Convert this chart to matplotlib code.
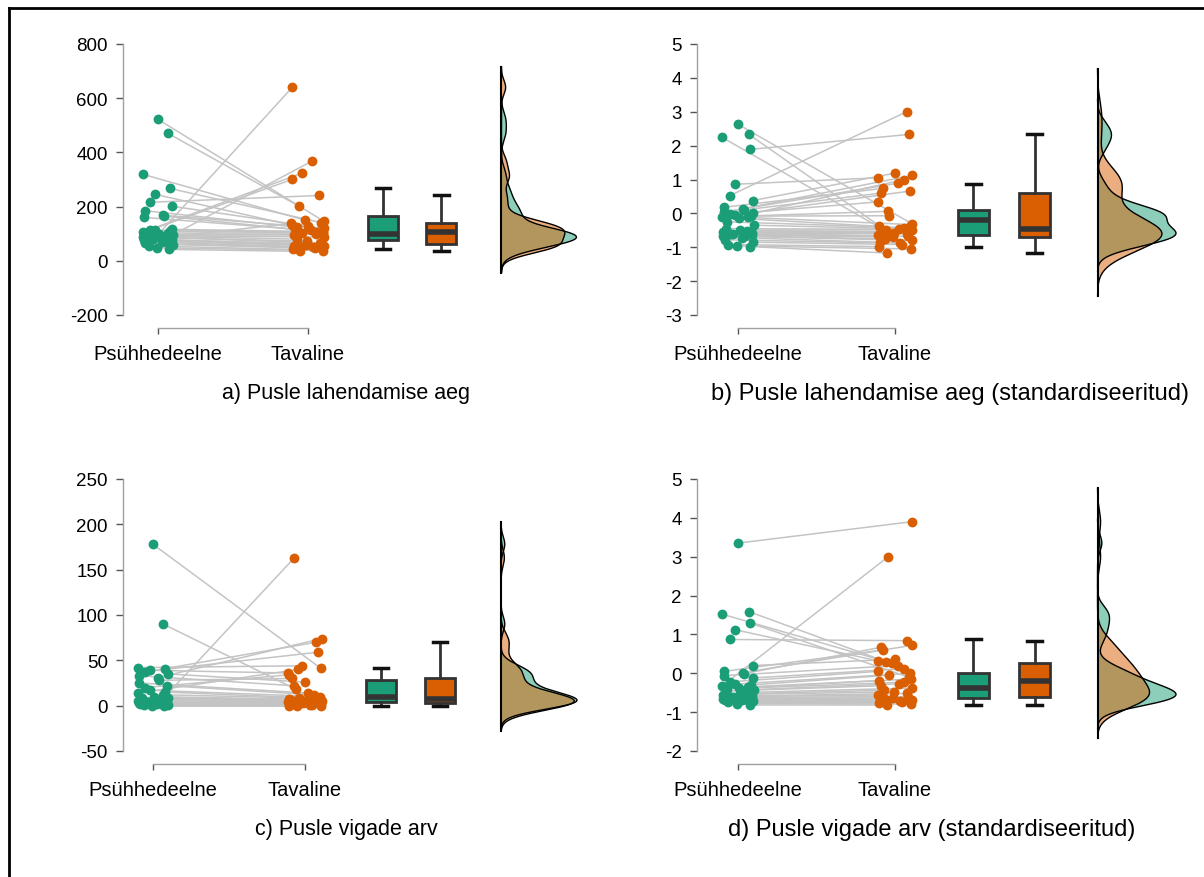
import numpy as np
import matplotlib.pyplot as plt
from matplotlib.lines import Line2D

plt.rcParams['font.family'] = ['Liberation Sans', 'DejaVu Sans']
plt.rcParams['axes.unicode_minus'] = False

groups = ['Psühhedeelne', 'Tavaline']
col_psy = '#1b9e77'
col_tav = '#d95f02'

# a) Pusle lahendamise aeg (participant order, psy / tav paired)
aeg_psy = [522, 470, 319, 267, 245, 216, 201, 185, 168, 165, 160, 116, 114, 112, 110, 106, 102, 99,
           97, 96, 94, 92, 90, 88, 85, 82, 79, 77, 75, 72, 68, 64, 60, 55, 48, 42]
aeg_tav = [146, 201, 150, 141, 132, 241, 128, 124, 120, 116, 112, 108, 300, 106, 104, 323, 102, 640,
           98, 367, 94, 88, 80, 72, 66, 138, 62, 60, 58, 56, 53, 50, 46, 42, 38, 35]

# b) standardiseeritud
aeg_std_psy = [2.63, 2.34, 2.24, 1.89, 0.86, 0.52, 0.38, 0.18, 0.14, 0.10, 0.04, 0.0, -0.02, -0.05,
               -0.08, -0.10, -0.12, -0.15, -0.25, -0.35, -0.45, -0.50, -0.52, -0.55, -0.58, -0.60,
               -0.62, -0.65, -0.66, -0.68, -0.72, -0.78, -0.85, -0.92, -0.96, -0.98]
aeg_std_tav = [-0.30, -0.50, -0.62, 2.33, 1.05, 3.0, 1.19, 0.74, 1.12, 0.60, 0.89, 1.0, 0.34, 0.66,
               -0.07, 0.06, -0.33, -0.38, -0.42, -0.45, -0.47, -0.48, -0.54, -0.57, -0.60, -0.65,
               -0.68, -0.70, -0.75, -0.80, -0.85, -0.88, -0.92, -0.98, -1.05, -1.17]

# c) Pusle vigade arv
vead_psy = [178, 90, 42, 40, 39, 37, 35, 33, 31, 28, 25, 22, 20, 17, 15, 14, 12, 10,
            9, 9, 8, 7, 6, 5, 5, 4, 4, 3, 3, 3, 2, 2, 1, 1, 0, 0]
vead_tav = [41, 18, 44, 59, 36, 70, 26, 22, 74, 30, 14, 12, 34, 10, 9, 40, 8, 7,
            7, 6, 6, 5, 163, 5, 4, 4, 3, 3, 2, 2, 2, 1, 1, 0, 0, 0]

# d) standardiseeritud
vead_std_psy = [3.35, 1.59, 1.52, 1.29, 1.12, 0.87, 0.20, 0.05, 0.02, -0.01, -0.06, -0.12, -0.22,
                -0.28, -0.30, -0.32, -0.35, -0.38, -0.40, -0.42, -0.46, -0.50, -0.52, -0.55, -0.58,
                -0.60, -0.62, -0.64, -0.65, -0.66, -0.68, -0.70, -0.72, -0.75, -0.78, -0.81]
vead_std_tav = [3.9, 0.30, 0.26, -0.10, 0.32, 0.84, 0.36, 0.60, 0.72, 0.67, 0.20, 0.12, 0.05,
                0.0, -0.05, 3.0, -0.15, -0.19, -0.23, -0.27, -0.32, -0.38, -0.44, -0.48, -0.52,
                -0.56, -0.60, -0.64, -0.66, -0.68, -0.70, -0.72, -0.74, -0.76, -0.79, -0.81]

titles = ['a) Pusle lahendamise aeg', 'b) Pusle lahendamise aeg (standardiseeritud)',
          'c) Pusle vigade arv', 'd) Pusle vigade arv (standardiseeritud)']


def kde(values):
    v = np.asarray(values, float)
    n = len(v)
    q75, q25 = np.percentile(v, [75, 25])
    bw = 0.9 * min(v.std(ddof=1), (q75 - q25) / 1.34) * n ** -0.2
    grid = np.linspace(v.min() - 3 * bw, v.max() + 3 * bw, 600)
    dens = np.exp(-0.5 * ((grid[:, None] - v[None, :]) / bw) ** 2).sum(1) / (n * bw * np.sqrt(2 * np.pi))
    return grid, dens


def panel(ax, psy, tav, yticks, xlim):
    n = len(psy)
    k = np.arange(n)
    x1 = 1 + 0.1 * np.sin(k * 2.39996)
    x2 = 2 + 0.11 * np.sin(k * 2.39996 + 1.3)
    for i in range(n):
        ax.plot([x1[i], x2[i]], [psy[i], tav[i]], color='#c4c4c4', lw=1.1, zorder=1)
    ax.scatter(x1, psy, s=50, color=col_psy, zorder=3, linewidths=0)
    ax.scatter(x2, tav, s=50, color=col_tav, zorder=3, linewidths=0)

    bp = ax.boxplot([psy, tav], positions=[2.5, 2.89], widths=0.2, patch_artist=True,
                    showfliers=False, capwidths=0.095,
                    boxprops=dict(edgecolor='#333333', linewidth=2),
                    medianprops=dict(color='#333333', linewidth=4),
                    whiskerprops=dict(color='#333333', linewidth=2),
                    capprops=dict(color='#111111', linewidth=2.5))
    for patch, c in zip(bp['boxes'], [col_psy, col_tav]):
        patch.set_facecolor(c)

    base = 3.29
    g1, d1 = kde(psy)
    g2, d2 = kde(tav)
    scale = 0.5 / max(d1.max(), d2.max())
    for g, d, c in [(g1, d1, col_psy), (g2, d2, col_tav)]:
        ax.fill_betweenx(g, base, base + d * scale, facecolor=c, alpha=0.5, lw=0, zorder=2)
        ax.plot(base + d * scale, g, color='black', lw=1, zorder=2.5)
    ax.plot([base, base], [min(g1[0], g2[0]), max(g1[-1], g2[-1])], color='black', lw=1.5, zorder=2.6)

    ax.set_xlim(*xlim)
    ax.set_ylim(yticks[0], yticks[-1])
    ax.set_yticks(yticks)
    ax.set_xticks([1, 2], groups)
    for s in ['top', 'right']:
        ax.spines[s].set_visible(False)
    ax.spines['left'].set_bounds(yticks[0], yticks[-1])
    ax.spines['bottom'].set_bounds(1, 2)
    ax.spines['bottom'].set_position(('outward', 9))
    for s in ['left', 'bottom']:
        ax.spines[s].set_color('#a0a0a0')
        ax.spines[s].set_linewidth(1)
    ax.tick_params(axis='y', length=5, width=1, color='#555555', pad=6, labelsize=13.5)
    ax.tick_params(axis='x', length=4, width=1, color='#555555', pad=8, labelsize=14.5)


fig = plt.figure(figsize=(12.04, 8.78), dpi=100)
W, H = 1204, 878
specs = [
    (aeg_psy, aeg_tav, list(range(-200, 801, 200)), 123, 45, 316, 0.767, 150, 346, 394, 15.5),
    (aeg_std_psy, aeg_std_tav, list(range(-3, 6)), 697, 45, 316, 0.739, 157, 950, 394, 17),
    (vead_psy, vead_tav, list(range(-50, 251, 50)), 123, 480, 752, 0.803, 152, 346, 830, 15.5),
    (vead_std_psy, vead_std_tav, list(range(-2, 6)), 697, 480, 752, 0.739, 157, 932, 830, 17),
]
for (psy, tav, yt, left, top, bottom, x0, ppu, tx, ty, fs), title in zip(specs, titles):
    width = 463 if left < 600 else 485
    ax = fig.add_axes([left / W, 1 - bottom / H, width / W, (bottom - top) / H])
    panel(ax, psy, tav, yt, (x0, x0 + width / ppu))
    fig.text(tx / W, 1 - ty / H, title, ha='center', va='center', fontsize=fs)

fig.add_artist(Line2D([9 / W, 9 / W], [0, 1 - 9 / H], color='black', lw=2))
fig.add_artist(Line2D([9 / W, 1], [1 - 9 / H, 1 - 9 / H], color='black', lw=2))

fig.savefig('out.png', dpi=100)
